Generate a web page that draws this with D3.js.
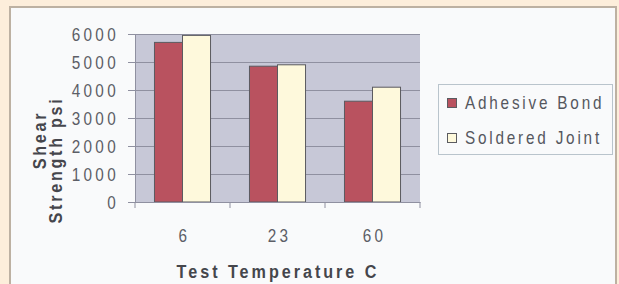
<!DOCTYPE html>
<html>
<head>
<meta charset="utf-8">
<script src="https://cdn.jsdelivr.net/npm/d3@7"></script>
<style>
  html, body { margin: 0; padding: 0; background: #fdeedb; }
  svg { display: block; }
  text { font-family: "Liberation Sans", Arial, sans-serif; }
</style>
</head>
<body>
<div id="chart"></div>
<script>
// data
const categories = ["6", "23", "60"];
const seriesNames = ["Adhesive Bond", "Soldered Joint"];
const adhesiveBond = [5700, 4850, 3600];
const solderedJoint = [5950, 4900, 4100];
const yTicks = [0, 1000, 2000, 3000, 4000, 5000, 6000];
const xTitle = "Test Temperature C";
const yTitleLines = ["Shear", "Strength psi"];

// layout
const width = 619, height = 284;
const plot = {left: 135, right: 420, top: 34, bottom: 202};
const colors = {"Adhesive Bond": "#b9525f", "Soldered Joint": "#fef9dc"};
const squeeze = 0.85; // the scanned font is narrow and tall

// squeeze text horizontally, keeping its anchor where it was
function narrow(sel, x) {
    sel.attr('x', x / squeeze)
        .attr('transform', `scale(${squeeze},1)`);
}

window.onload = () => {
    const svg = d3.select('#chart').append('svg')
        .attr('width', width)
        .attr('height', height);

    // beige page and the white panel
    svg.append('rect')
        .attr('width', width).attr('height', height)
        .attr('fill', '#fdeedb');
    svg.append('rect')
        .attr('x', 10).attr('y', 7)
        .attr('width', 606).attr('height', 290)
        .attr('fill', '#f9fafb')
        .attr('stroke', '#bdb1a2')
        .attr('stroke-width', 2);

    const x0 = d3.scaleBand()
        .domain(categories)
        .range([plot.left, plot.right])
        .padding(0);
    const groupW = x0.bandwidth();
    const x1 = d3.scaleBand()
        .domain(seriesNames)
        .range([groupW * 0.205, groupW * 0.795])
        .padding(0);
    const y = d3.scaleLinear()
        .domain([0, 6000])
        .range([plot.bottom, plot.top]);

    // plot background
    svg.append('rect')
        .attr('x', plot.left).attr('y', plot.top)
        .attr('width', plot.right - plot.left)
        .attr('height', plot.bottom - plot.top)
        .attr('fill', '#c7c8d7');

    // gridlines + y ticks
    const yAxis = svg.append('g')
        .attr('transform', `translate(${plot.left},0)`)
        .call(d3.axisLeft(y).tickValues(yTicks).tickFormat(d3.format('d')).tickSizeOuter(0));
    yAxis.select('.domain').attr('stroke', '#8f90a0');
    yAxis.selectAll('.tick line')
        .attr('x1', -7)
        .attr('x2', plot.right - plot.left)
        .attr('stroke', '#8f90a0');
    yAxis.selectAll('.tick text')
        .attr('dy', '0.36em')
        .style('font-size', '18px')
        .style('letter-spacing', '3.9px')
        .attr('fill', '#5c5e66')
        .call(narrow, -16);

    // bars
    const groups = svg.append('g')
        .selectAll('g')
        .data(categories)
        .enter()
        .append('g')
        .attr('transform', d => `translate(${x0(d)},0)`);
    groups.selectAll('rect')
        .data((d, i) => [
            {name: seriesNames[0], value: adhesiveBond[i]},
            {name: seriesNames[1], value: solderedJoint[i]}
        ])
        .enter()
        .append('rect')
        .attr('x', d => x1(d.name))
        .attr('y', d => y(d.value))
        .attr('width', x1.bandwidth())
        .attr('height', d => y(0) - y(d.value))
        .attr('fill', d => colors[d.name])
        .attr('stroke', '#5b5b60')
        .attr('stroke-width', 1);

    // x axis
    const xAxis = svg.append('g')
        .attr('transform', `translate(0,${plot.bottom})`)
        .call(d3.axisBottom(x0).tickSize(0).tickPadding(0));
    xAxis.select('.domain').attr('stroke', '#8f90a0');
    xAxis.selectAll('.tick text')
        .attr('y', 40)
        .attr('dy', 0)
        .style('font-size', '18px')
        .style('letter-spacing', '3.9px')
        .attr('fill', '#5c5e66')
        .call(narrow, 2);
    // tick marks between groups
    xAxis.append('g')
        .selectAll('line')
        .data(categories.concat(['end']))
        .enter()
        .append('line')
        .attr('x1', (d, i) => plot.left + i * groupW)
        .attr('x2', (d, i) => plot.left + i * groupW)
        .attr('y1', 0)
        .attr('y2', 6)
        .attr('stroke', '#8f90a0');

    // axis titles
    svg.append('g')
        .attr('transform', 'translate(278,278)')
        .append('text')
        .attr('text-anchor', 'middle')
        .style('font-size', '19px')
        .style('font-weight', 'bold')
        .style('letter-spacing', '3.5px')
        .attr('fill', '#45464c')
        .text(xTitle)
        .call(narrow, 0);

    svg.append('g')
        .attr('transform', 'translate(46,140) rotate(-90)')
        .append('text')
        .attr('text-anchor', 'middle')
        .style('font-size', '19px')
        .style('font-weight', 'bold')
        .style('letter-spacing', '3.2px')
        .attr('fill', '#45464c')
        .text(yTitleLines[0])
        .call(narrow, 0);
    svg.append('g')
        .attr('transform', 'translate(62,160) rotate(-90)')
        .append('text')
        .attr('text-anchor', 'middle')
        .style('font-size', '19px')
        .style('font-weight', 'bold')
        .style('letter-spacing', '3.2px')
        .attr('fill', '#45464c')
        .text(yTitleLines[1])
        .call(narrow, 0);

    // legend
    const legend = svg.append('g');
    legend.append('rect')
        .attr('x', 438.5).attr('y', 84.5)
        .attr('width', 174).attr('height', 70)
        .attr('fill', '#f9fafb')
        .attr('stroke', '#b9c4cc')
        .attr('stroke-width', 1);
    const items = legend.selectAll('g.item')
        .data(seriesNames)
        .enter()
        .append('g')
        .attr('class', 'item')
        .attr('transform', (d, i) => `translate(447,${98 + i * 35})`);
    items.append('rect')
        .attr('x', 0.5).attr('y', 0.5)
        .attr('width', 9).attr('height', 9)
        .attr('fill', d => colors[d])
        .attr('stroke', '#5b5b60');
    items.append('text')
        .attr('y', 10.5)
        .style('font-size', '18px')
        .style('letter-spacing', '3.3px')
        .attr('fill', '#55575e')
        .text(d => d)
        .call(narrow, 18);
};
</script>
</body>
</html>
